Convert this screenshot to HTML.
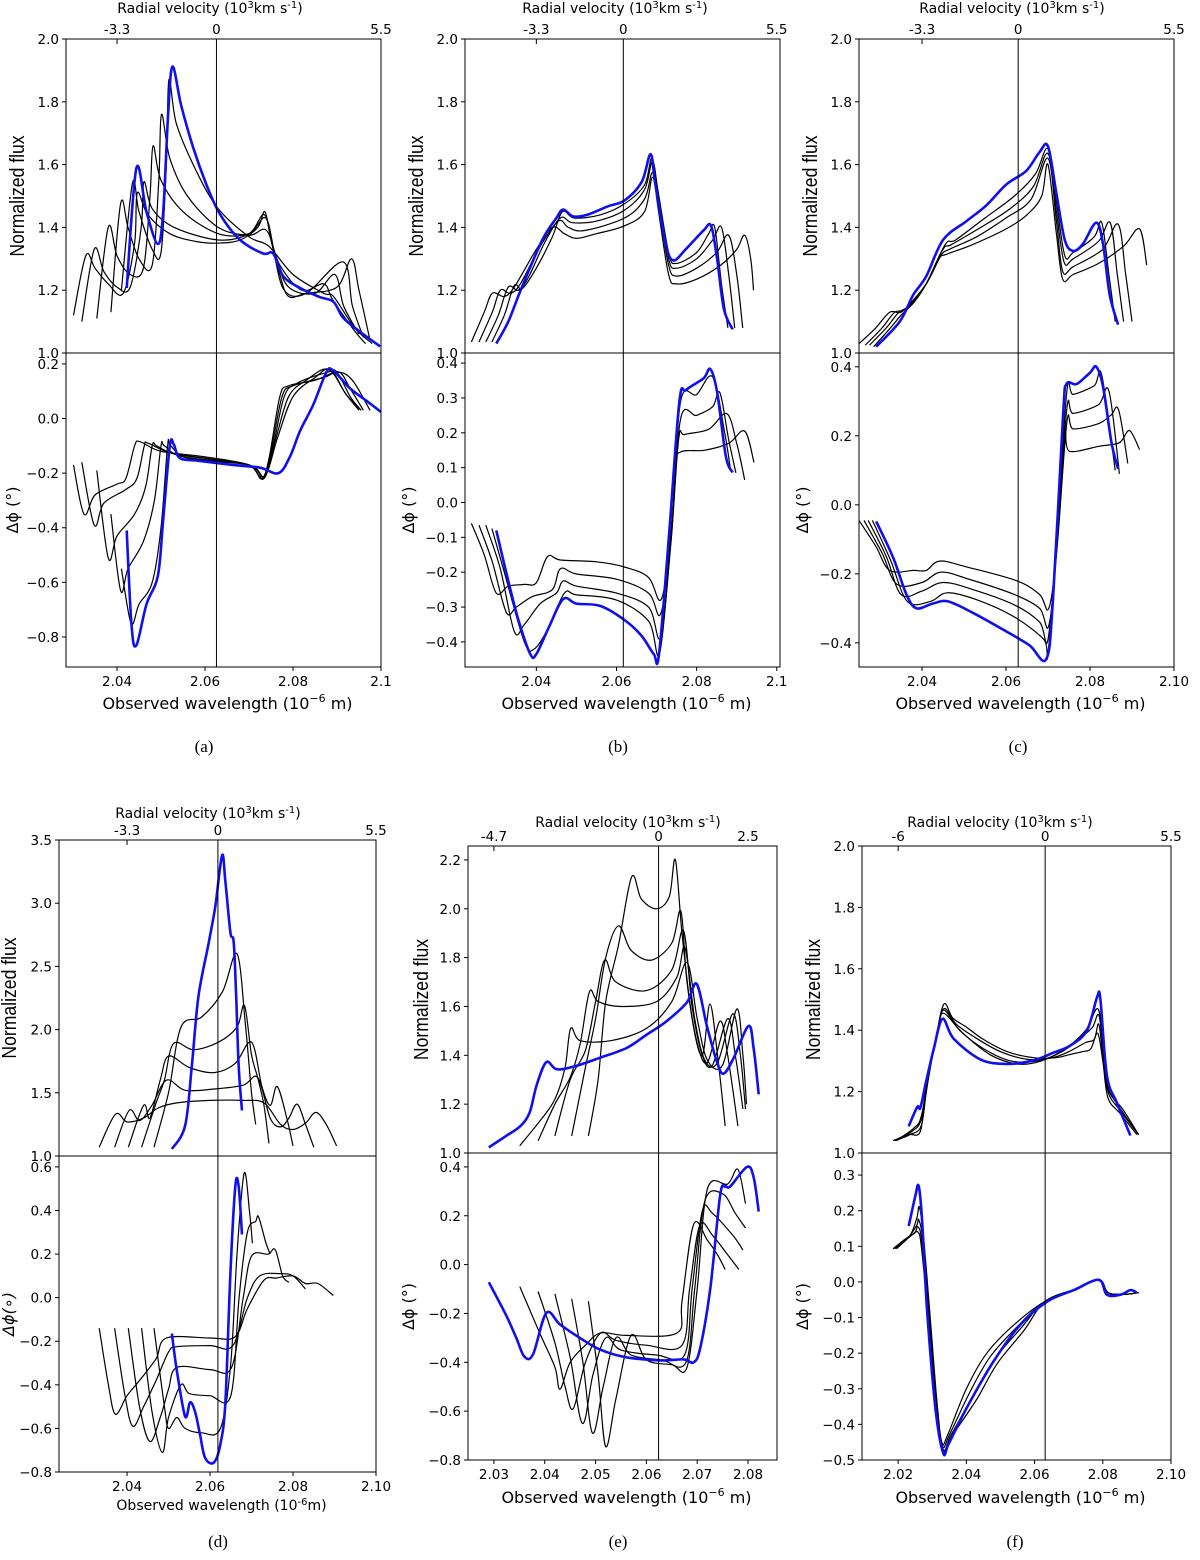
<!DOCTYPE html>
<html><head><meta charset="utf-8"><title>Flux and phase panels</title>
<style>
html,body{margin:0;padding:0;background:#fff;}
#fig{position:relative;width:1200px;height:1555px;}
svg text{font-family:"DejaVu Sans","Liberation Sans",sans-serif;fill:#000;}
.cap{font-family:"Liberation Serif",serif !important;font-size:17px;}
.ylab{font-family:"Liberation Sans",sans-serif !important;}
</style></head>
<body>
<div id="fig">
<svg id="svg" width="1200" height="1555" viewBox="0 0 1200 1555" xmlns="http://www.w3.org/2000/svg"></svg>
</div>
<script>
// ---------------- Panel (a) data ----------------
const aFluxBlue = [[2.0422,1.207],[2.0444,1.589],[2.0467,1.449],[2.0493,1.347],[2.0505,1.449],[2.0516,1.758],[2.0526,1.912],[2.0546,1.787],[2.0573,1.655],[2.0603,1.537],[2.0634,1.442],[2.0679,1.361],[2.0732,1.317],[2.0755,1.317],[2.0778,1.244],[2.0816,1.207],[2.0861,1.178],[2.0892,1.163],[2.0914,1.112],[2.0952,1.068],[2.0998,1.021]];
const aFluxBlack = [
[[2.0301,1.12],[2.0329,1.31],[2.0350,1.27],[2.0380,1.22],[2.0414,1.19],[2.0440,1.35],[2.0446,1.51],[2.0470,1.44],[2.0520,1.38],[2.0580,1.355],[2.0630,1.35],[2.0680,1.36],[2.0720,1.40],[2.0736,1.45],[2.0750,1.36],[2.0770,1.25],[2.0790,1.18],[2.0830,1.19],[2.0900,1.21],[2.0933,1.30],[2.0950,1.20],[2.0975,1.04]],
[[2.0320,1.10],[2.0348,1.33],[2.0370,1.26],[2.0400,1.21],[2.0430,1.21],[2.0455,1.40],[2.0461,1.545],[2.0480,1.46],[2.0530,1.40],[2.0630,1.36],[2.0700,1.38],[2.0735,1.44],[2.0755,1.33],[2.0780,1.20],[2.0830,1.19],[2.0914,1.29],[2.0935,1.15],[2.0960,1.05]],
[[2.0354,1.11],[2.0380,1.40],[2.0400,1.31],[2.0430,1.25],[2.0460,1.27],[2.0475,1.50],[2.0482,1.66],[2.0500,1.55],[2.0550,1.45],[2.0630,1.38],[2.0700,1.38],[2.0738,1.43],[2.0760,1.31],[2.0790,1.21],[2.0850,1.19],[2.0895,1.25],[2.0915,1.15],[2.0950,1.06]],
[[2.0386,1.13],[2.0408,1.475],[2.0425,1.40],[2.0450,1.30],[2.0480,1.28],[2.0495,1.55],[2.0501,1.76],[2.0520,1.62],[2.0560,1.50],[2.0630,1.40],[2.0700,1.375],[2.0740,1.39],[2.0770,1.28],[2.0820,1.20],[2.0870,1.22],[2.0890,1.17],[2.0940,1.07],[2.0965,1.03]],
[[2.0410,1.20],[2.0435,1.54],[2.0450,1.45],[2.0480,1.33],[2.0500,1.32],[2.0512,1.60],[2.0518,1.87],[2.0535,1.73],[2.0580,1.58],[2.0630,1.46],[2.0700,1.37],[2.0745,1.34],[2.0800,1.25],[2.0870,1.19],[2.0892,1.18],[2.0940,1.08],[2.0980,1.03]]
];
const aPhaseBlue = [[2.0422,-0.41],[2.0433,-0.76],[2.0444,-0.83],[2.0467,-0.68],[2.0493,-0.575],[2.0505,-0.37],[2.0520,-0.10],[2.0529,-0.095],[2.0543,-0.145],[2.0588,-0.155],[2.0664,-0.17],[2.0725,-0.18],[2.0767,-0.20],[2.0793,-0.14],[2.0816,-0.045],[2.0846,0.05],[2.0876,0.17],[2.0892,0.175],[2.0930,0.11],[2.0967,0.065],[2.1000,0.024]];
const aPhaseBlack = [
[[2.0301,-0.17],[2.0325,-0.35],[2.0350,-0.28],[2.0400,-0.24],[2.0420,-0.22],[2.0440,-0.10],[2.0452,-0.085],[2.0500,-0.12],[2.0600,-0.14],[2.0700,-0.17],[2.0728,-0.22],[2.0745,-0.15],[2.0770,0.08],[2.0790,0.12],[2.0850,0.14],[2.0900,0.17],[2.0935,0.14],[2.0975,0.03]],
[[2.0320,-0.16],[2.0348,-0.39],[2.0370,-0.31],[2.0420,-0.26],[2.0445,-0.22],[2.0462,-0.10],[2.0470,-0.09],[2.0520,-0.125],[2.0600,-0.145],[2.0700,-0.17],[2.0730,-0.22],[2.0750,-0.12],[2.0775,0.08],[2.0800,0.12],[2.0870,0.15],[2.0905,0.17],[2.0930,0.11],[2.0960,0.03]],
[[2.0354,-0.19],[2.0380,-0.51],[2.0400,-0.43],[2.0440,-0.35],[2.0465,-0.25],[2.0480,-0.10],[2.0490,-0.10],[2.0530,-0.13],[2.0620,-0.15],[2.0700,-0.17],[2.0732,-0.22],[2.0755,-0.10],[2.0780,0.08],[2.0810,0.13],[2.0880,0.17],[2.0900,0.17],[2.0930,0.08],[2.0955,0.03]],
[[2.0386,-0.35],[2.0408,-0.63],[2.0425,-0.55],[2.0460,-0.45],[2.0485,-0.30],[2.0500,-0.10],[2.0508,-0.10],[2.0550,-0.14],[2.0700,-0.17],[2.0734,-0.22],[2.0760,-0.08],[2.0790,0.08],[2.0830,0.14],[2.0880,0.18],[2.0920,0.09],[2.0950,0.03]],
[[2.0410,-0.55],[2.0432,-0.75],[2.0450,-0.68],[2.0480,-0.60],[2.0500,-0.40],[2.0515,-0.10],[2.0522,-0.10],[2.0560,-0.145],[2.0700,-0.17],[2.0736,-0.21],[2.0765,-0.07],[2.0800,0.08],[2.0850,0.15],[2.0885,0.18],[2.0920,0.09],[2.0955,0.03]]
];
// ---------------- Panel (b) data ----------------
const bFluxBlue = [[2.0300,1.03],[2.0330,1.10],[2.0364,1.21],[2.0415,1.36],[2.0450,1.43],[2.0467,1.457],[2.0492,1.435],[2.0527,1.44],[2.0578,1.467],[2.0620,1.486],[2.0663,1.545],[2.0685,1.633],[2.0697,1.537],[2.0723,1.347],[2.0742,1.295],[2.0774,1.332],[2.0817,1.39],[2.0836,1.405],[2.0851,1.30],[2.0868,1.14],[2.0890,1.075]];
const bFluxBlack = [
[[2.0238,1.035],[2.0270,1.13],[2.0290,1.19],[2.0320,1.18],[2.0345,1.21],[2.0400,1.33],[2.0440,1.40],[2.0470,1.38],[2.0500,1.365],[2.0550,1.38],[2.0620,1.405],[2.0670,1.45],[2.0690,1.56],[2.0705,1.45],[2.0730,1.25],[2.0750,1.22],[2.0800,1.235],[2.0860,1.28],[2.0900,1.33],[2.0920,1.375],[2.0935,1.30],[2.0942,1.20]],
[[2.0257,1.035],[2.0290,1.13],[2.0310,1.20],[2.0335,1.19],[2.0360,1.22],[2.0410,1.34],[2.0455,1.42],[2.0480,1.40],[2.0520,1.39],[2.0620,1.43],[2.0670,1.49],[2.0690,1.575],[2.0705,1.47],[2.0730,1.28],[2.0750,1.245],[2.0800,1.27],[2.0850,1.32],[2.0880,1.375],[2.0900,1.25],[2.0915,1.08]],
[[2.0274,1.035],[2.0305,1.12],[2.0330,1.21],[2.0355,1.20],[2.0380,1.24],[2.0420,1.35],[2.0460,1.43],[2.0490,1.415],[2.0550,1.42],[2.0620,1.455],[2.0670,1.52],[2.0690,1.61],[2.0705,1.50],[2.0730,1.30],[2.0750,1.27],[2.0800,1.30],[2.0840,1.36],[2.0862,1.40],[2.0880,1.25],[2.0895,1.08]],
[[2.0289,1.035],[2.0320,1.12],[2.0345,1.215],[2.0365,1.205],[2.0400,1.27],[2.0440,1.37],[2.0465,1.45],[2.0495,1.43],[2.0560,1.44],[2.0620,1.475],[2.0670,1.535],[2.0688,1.62],[2.0703,1.52],[2.0730,1.32],[2.0748,1.285],[2.0800,1.32],[2.0830,1.38],[2.0845,1.40],[2.0862,1.22],[2.0878,1.08]]
];
const bPhaseBlue = [[2.0300,-0.08],[2.0330,-0.225],[2.0356,-0.34],[2.0385,-0.435],[2.0400,-0.435],[2.0432,-0.356],[2.0467,-0.277],[2.0500,-0.29],[2.0560,-0.297],[2.0620,-0.337],[2.0663,-0.383],[2.0693,-0.435],[2.0706,-0.435],[2.0732,-0.08],[2.0757,0.29],[2.0774,0.323],[2.0817,0.356],[2.0834,0.383],[2.0851,0.317],[2.0873,0.132],[2.0890,0.086]];
const bPhaseBlack = [
[[2.0238,-0.06],[2.0270,-0.15],[2.0300,-0.26],[2.0330,-0.24],[2.0370,-0.235],[2.0400,-0.23],[2.0428,-0.155],[2.0460,-0.165],[2.0550,-0.17],[2.0620,-0.185],[2.0680,-0.215],[2.0710,-0.28],[2.0730,-0.15],[2.0745,0.10],[2.0760,0.145],[2.0820,0.15],[2.0880,0.17],[2.0920,0.205],[2.0943,0.115]],
[[2.0257,-0.065],[2.0290,-0.17],[2.0325,-0.315],[2.0350,-0.30],[2.0390,-0.27],[2.0440,-0.25],[2.0460,-0.19],[2.0500,-0.205],[2.0600,-0.22],[2.0680,-0.26],[2.0710,-0.32],[2.0735,-0.12],[2.0755,0.18],[2.0770,0.195],[2.0830,0.21],[2.0875,0.255],[2.0900,0.17],[2.0920,0.065]],
[[2.0274,-0.065],[2.0310,-0.19],[2.0345,-0.37],[2.0370,-0.35],[2.0410,-0.29],[2.0450,-0.26],[2.0467,-0.225],[2.0500,-0.24],[2.0600,-0.26],[2.0680,-0.30],[2.0710,-0.385],[2.0737,-0.10],[2.0760,0.24],[2.0800,0.25],[2.0840,0.275],[2.0858,0.315],[2.0880,0.18],[2.0898,0.085]],
[[2.0289,-0.075],[2.0320,-0.20],[2.0370,-0.40],[2.0395,-0.42],[2.0430,-0.36],[2.0470,-0.26],[2.0500,-0.265],[2.0600,-0.28],[2.0680,-0.34],[2.0708,-0.43],[2.0738,-0.07],[2.0760,0.29],[2.0800,0.31],[2.0840,0.36],[2.0870,0.20],[2.0885,0.09]]
];
// ---------------- Panel (c) data ----------------
const cFluxBlue = [[2.0291,1.02],[2.0347,1.10],[2.0379,1.185],[2.0410,1.244],[2.0450,1.36],[2.0506,1.42],[2.0553,1.47],[2.0601,1.537],[2.0648,1.58],[2.0680,1.64],[2.0700,1.658],[2.0720,1.508],[2.0740,1.36],[2.0760,1.325],[2.0783,1.347],[2.0815,1.415],[2.0831,1.347],[2.0847,1.185],[2.0867,1.09]];
const cFluxBlack = [
[[2.0250,1.03],[2.0290,1.08],[2.0323,1.13],[2.0350,1.13],[2.0380,1.17],[2.0410,1.22],[2.0440,1.30],[2.0460,1.315],[2.0520,1.345],[2.0600,1.395],[2.0650,1.44],[2.0685,1.50],[2.0700,1.60],[2.0720,1.38],[2.0735,1.235],[2.0760,1.25],[2.0820,1.285],[2.0880,1.34],[2.0918,1.395],[2.0935,1.28]],
[[2.0265,1.025],[2.0305,1.08],[2.0335,1.13],[2.0360,1.14],[2.0410,1.22],[2.0445,1.31],[2.0465,1.33],[2.0530,1.37],[2.0600,1.43],[2.0660,1.49],[2.0700,1.62],[2.0720,1.42],[2.0735,1.26],[2.0760,1.275],[2.0830,1.33],[2.0867,1.41],[2.0885,1.25],[2.0900,1.10]],
[[2.0275,1.025],[2.0315,1.08],[2.0345,1.13],[2.0370,1.15],[2.0410,1.22],[2.0450,1.33],[2.0470,1.345],[2.0540,1.40],[2.0610,1.46],[2.0665,1.53],[2.0700,1.635],[2.0720,1.45],[2.0738,1.29],[2.0760,1.30],[2.0820,1.355],[2.0848,1.415],[2.0865,1.25],[2.0880,1.10]],
[[2.0285,1.02],[2.0325,1.08],[2.0350,1.12],[2.0380,1.16],[2.0410,1.22],[2.0455,1.345],[2.0480,1.36],[2.0550,1.43],[2.0620,1.50],[2.0670,1.57],[2.0700,1.65],[2.0720,1.48],[2.0740,1.31],[2.0760,1.32],[2.0810,1.37],[2.0828,1.415],[2.0845,1.25],[2.0860,1.10]]
];
const cPhaseBlue = [[2.0291,-0.048],[2.0331,-0.152],[2.0363,-0.26],[2.0387,-0.30],[2.0426,-0.286],[2.0462,-0.28],[2.0521,-0.313],[2.0601,-0.367],[2.0656,-0.407],[2.0696,-0.447],[2.0712,-0.273],[2.0736,0.262],[2.0744,0.35],[2.0768,0.35],[2.0800,0.383],[2.0815,0.40],[2.0831,0.343],[2.0851,0.182],[2.0867,0.104]];
const cPhaseBlack = [
[[2.0250,-0.045],[2.0290,-0.12],[2.0323,-0.19],[2.0380,-0.19],[2.0410,-0.19],[2.0442,-0.163],[2.0506,-0.18],[2.0625,-0.22],[2.0680,-0.26],[2.0702,-0.30],[2.0720,-0.14],[2.0740,0.20],[2.0751,0.155],[2.0823,0.17],[2.0870,0.18],[2.0894,0.215],[2.0918,0.16]],
[[2.0262,-0.045],[2.0305,-0.14],[2.0340,-0.23],[2.0400,-0.225],[2.0445,-0.195],[2.0510,-0.215],[2.0620,-0.26],[2.0680,-0.30],[2.0702,-0.35],[2.0722,-0.12],[2.0745,0.24],[2.0760,0.22],[2.0820,0.235],[2.0850,0.26],[2.0868,0.275],[2.0890,0.12]],
[[2.0272,-0.045],[2.0315,-0.15],[2.0350,-0.26],[2.0400,-0.25],[2.0450,-0.225],[2.0520,-0.245],[2.0620,-0.29],[2.0680,-0.34],[2.0700,-0.39],[2.0722,-0.10],[2.0745,0.28],[2.0760,0.265],[2.0820,0.29],[2.0845,0.33],[2.0870,0.09]],
[[2.0282,-0.045],[2.0325,-0.16],[2.0365,-0.28],[2.0420,-0.28],[2.0460,-0.255],[2.0530,-0.275],[2.0620,-0.325],[2.0690,-0.39],[2.0700,-0.43],[2.0722,-0.08],[2.0745,0.33],[2.0760,0.32],[2.0810,0.345],[2.0828,0.375],[2.0860,0.10]]
];
// ---------------- Panel (d) data ----------------
const dFluxBlue = [[2.0508,1.055],[2.0540,1.24],[2.0556,1.71],[2.0572,2.26],[2.0597,2.69],[2.0613,2.98],[2.0629,3.38],[2.0637,3.17],[2.0649,2.77],[2.0657,2.69],[2.0663,2.26],[2.0669,1.71],[2.0677,1.36]];
const dFluxBlack = [
[[2.0333,1.07],[2.0372,1.33],[2.0400,1.27],[2.0440,1.30],[2.0475,1.38],[2.0520,1.42],[2.0600,1.44],[2.0680,1.44],[2.0730,1.42],[2.0770,1.25],[2.0800,1.21],[2.0830,1.26],[2.0855,1.345],[2.0880,1.25],[2.0905,1.08]],
[[2.0370,1.07],[2.0405,1.36],[2.0430,1.28],[2.0460,1.40],[2.0495,1.60],[2.0540,1.52],[2.0610,1.53],[2.0680,1.56],[2.0715,1.62],[2.0745,1.30],[2.0770,1.23],[2.0790,1.30],[2.0810,1.41],[2.0830,1.25],[2.0850,1.07]],
[[2.0403,1.07],[2.0440,1.40],[2.0455,1.30],[2.0480,1.60],[2.0500,1.79],[2.0550,1.70],[2.0610,1.66],[2.0660,1.73],[2.0700,1.90],[2.0725,1.55],[2.0745,1.40],[2.0762,1.55],[2.0785,1.30],[2.0800,1.08]],
[[2.0435,1.07],[2.0470,1.42],[2.0490,1.60],[2.0512,1.89],[2.0560,1.84],[2.0620,1.90],[2.0665,2.02],[2.0683,2.19],[2.0700,1.80],[2.0715,1.62],[2.0730,1.40],[2.0742,1.10]],
[[2.0465,1.07],[2.0500,1.50],[2.0530,2.02],[2.0580,2.10],[2.0630,2.30],[2.0665,2.60],[2.0685,2.05],[2.0700,1.50],[2.0710,1.25]]
];
const dPhaseBlue = [[2.0508,-0.165],[2.0520,-0.334],[2.0540,-0.545],[2.0552,-0.48],[2.0564,-0.524],[2.0576,-0.63],[2.0588,-0.735],[2.0609,-0.757],[2.0625,-0.672],[2.0637,-0.48],[2.0649,0.11],[2.0661,0.51],[2.0669,0.51],[2.0677,0.29]];
const dPhaseBlack = [
[[2.0333,-0.14],[2.0355,-0.40],[2.0372,-0.535],[2.0400,-0.45],[2.0430,-0.38],[2.0470,-0.28],[2.0495,-0.185],[2.0600,-0.185],[2.0660,-0.18],[2.0690,-0.05],[2.0730,0.08],[2.0760,0.09],[2.0800,0.10],[2.0830,0.065],[2.0860,0.065],[2.0897,0.01]],
[[2.0370,-0.14],[2.0395,-0.45],[2.0414,-0.59],[2.0440,-0.50],[2.0470,-0.38],[2.0500,-0.25],[2.0520,-0.225],[2.0600,-0.22],[2.0655,-0.22],[2.0690,0.0],[2.0720,0.10],[2.0770,0.11],[2.0800,0.10],[2.0830,0.04]],
[[2.0403,-0.14],[2.0430,-0.50],[2.0455,-0.66],[2.0480,-0.55],[2.0500,-0.42],[2.0520,-0.32],[2.0600,-0.33],[2.0652,-0.32],[2.0680,0.0],[2.0700,0.19],[2.0740,0.20],[2.0757,0.22],[2.0775,0.10],[2.0790,0.07]],
[[2.0435,-0.14],[2.0460,-0.52],[2.0485,-0.71],[2.0500,-0.55],[2.0530,-0.40],[2.0550,-0.44],[2.0600,-0.45],[2.0650,-0.45],[2.0670,0.0],[2.0690,0.30],[2.0710,0.35],[2.0717,0.37],[2.0735,0.25],[2.0745,0.20]],
[[2.0465,-0.14],[2.0490,-0.50],[2.0500,-0.60],[2.0520,-0.55],[2.0540,-0.60],[2.0580,-0.62],[2.0625,-0.60],[2.0650,-0.30],[2.0665,0.20],[2.0682,0.57],[2.0695,0.40],[2.0702,0.25]]
];
// ---------------- Panel (e) data ----------------
const eFluxBlue = [[2.0290,1.023],[2.0324,1.07],[2.0351,1.108],[2.0370,1.164],[2.0384,1.277],[2.0403,1.372],[2.0423,1.343],[2.0456,1.353],[2.0509,1.39],[2.0561,1.43],[2.0601,1.485],[2.0640,1.54],[2.0680,1.617],[2.0699,1.692],[2.0719,1.52],[2.0739,1.372],[2.0752,1.325],[2.0772,1.39],[2.0801,1.52],[2.0811,1.43],[2.0821,1.24]];
const eFluxBlack = [
[[2.0486,1.07],[2.0505,1.30],[2.0520,1.62],[2.0545,1.85],[2.0571,2.13],[2.0590,2.04],[2.0620,2.00],[2.0645,2.05],[2.0657,2.20],[2.0670,1.90],[2.0690,1.55],[2.0710,1.40],[2.0725,1.61],[2.0740,1.40],[2.0755,1.11]],
[[2.0453,1.07],[2.0480,1.35],[2.0500,1.55],[2.0520,1.80],[2.0545,1.93],[2.0570,1.83],[2.0610,1.79],[2.0650,1.86],[2.0668,1.99],[2.0680,1.70],[2.0700,1.45],[2.0720,1.37],[2.0745,1.54],[2.0760,1.40],[2.0780,1.11]],
[[2.0420,1.07],[2.0450,1.30],[2.0480,1.42],[2.0500,1.62],[2.0518,1.79],[2.0540,1.70],[2.0600,1.665],[2.0650,1.75],[2.0673,1.91],[2.0690,1.60],[2.0710,1.40],[2.0730,1.36],[2.0760,1.55],[2.0775,1.40],[2.0790,1.18]],
[[2.0387,1.05],[2.0420,1.20],[2.0450,1.31],[2.0470,1.45],[2.0488,1.66],[2.0505,1.62],[2.0550,1.60],[2.0620,1.62],[2.0660,1.72],[2.0676,1.84],[2.0695,1.55],[2.0715,1.38],[2.0740,1.37],[2.0770,1.57],[2.0785,1.40],[2.0795,1.18]],
[[2.0351,1.03],[2.0390,1.13],[2.0420,1.22],[2.0440,1.35],[2.0451,1.51],[2.0470,1.46],[2.0530,1.46],[2.0600,1.51],[2.0650,1.62],[2.0680,1.78],[2.0700,1.55],[2.0720,1.38],[2.0750,1.36],[2.0778,1.59],[2.0790,1.40],[2.0797,1.20]]
];
const ePhaseBlue = [[2.0290,-0.072],[2.0324,-0.207],[2.0344,-0.30],[2.0360,-0.377],[2.0377,-0.367],[2.0403,-0.198],[2.0430,-0.245],[2.0469,-0.30],[2.0509,-0.348],[2.0561,-0.38],[2.0627,-0.392],[2.0673,-0.388],[2.0693,-0.40],[2.0706,-0.34],[2.0726,-0.094],[2.0745,0.282],[2.0755,0.32],[2.0765,0.32],[2.0798,0.40],[2.0811,0.358],[2.0821,0.217]];
const ePhaseBlack = [
[[2.0351,-0.09],[2.0390,-0.28],[2.0420,-0.42],[2.0430,-0.51],[2.0450,-0.40],[2.0480,-0.33],[2.0510,-0.28],[2.0560,-0.29],[2.0660,-0.28],[2.0670,-0.15],[2.0693,0.165],[2.0720,0.10],[2.0740,0.04],[2.0755,-0.02]],
[[2.0387,-0.11],[2.0420,-0.32],[2.0440,-0.50],[2.0456,-0.59],[2.0480,-0.40],[2.0510,-0.28],[2.0540,-0.31],[2.0600,-0.33],[2.0670,-0.33],[2.0685,-0.10],[2.0705,0.16],[2.0730,0.12],[2.0760,0.04],[2.0782,-0.02]],
[[2.0420,-0.12],[2.0450,-0.38],[2.0474,-0.65],[2.0495,-0.45],[2.0520,-0.30],[2.0550,-0.35],[2.0620,-0.37],[2.0675,-0.37],[2.0690,-0.10],[2.0710,0.22],[2.0730,0.21],[2.0770,0.12],[2.0790,0.06]],
[[2.0453,-0.14],[2.0475,-0.40],[2.0494,-0.69],[2.0515,-0.50],[2.0540,-0.30],[2.0570,-0.37],[2.0630,-0.39],[2.0678,-0.40],[2.0695,-0.10],[2.0715,0.26],[2.0750,0.29],[2.0775,0.21],[2.0795,0.15]],
[[2.0486,-0.15],[2.0505,-0.45],[2.0520,-0.745],[2.0540,-0.55],[2.0570,-0.29],[2.0600,-0.39],[2.0650,-0.41],[2.0680,-0.42],[2.0700,-0.10],[2.0720,0.31],[2.0760,0.33],[2.0780,0.39],[2.0795,0.25]]
];
// ---------------- Panel (f) data ----------------
const fFluxBlue = [[2.0231,1.087],[2.0256,1.15],[2.0265,1.147],[2.0280,1.222],[2.0305,1.342],[2.0330,1.437],[2.0363,1.372],[2.0441,1.305],[2.0519,1.29],[2.0598,1.302],[2.0656,1.327],[2.0705,1.35],[2.0754,1.40],[2.0783,1.507],[2.0793,1.50],[2.0812,1.252],[2.0842,1.162],[2.0881,1.057]];
const fFluxBlack = [
[[2.0185,1.04],[2.0230,1.06],[2.0265,1.07],[2.0280,1.20],[2.0310,1.37],[2.0334,1.485],[2.0360,1.44],[2.0400,1.41],[2.0450,1.37],[2.0520,1.33],[2.0600,1.31],[2.0660,1.31],[2.0700,1.32],[2.0740,1.33],[2.0765,1.34],[2.0785,1.39],[2.0800,1.30],[2.0815,1.18],[2.0850,1.13],[2.0900,1.06]],
[[2.0190,1.04],[2.0235,1.06],[2.0268,1.09],[2.0285,1.22],[2.0312,1.38],[2.0334,1.47],[2.0370,1.42],[2.0420,1.38],[2.0500,1.33],[2.0580,1.305],[2.0650,1.31],[2.0700,1.33],[2.0750,1.36],[2.0775,1.37],[2.0788,1.42],[2.0800,1.32],[2.0815,1.20],[2.0850,1.14],[2.0905,1.06]],
[[2.0195,1.04],[2.0240,1.07],[2.0268,1.11],[2.0290,1.25],[2.0315,1.40],[2.0334,1.465],[2.0380,1.40],[2.0450,1.34],[2.0530,1.30],[2.0610,1.30],[2.0680,1.33],[2.0740,1.38],[2.0770,1.41],[2.0788,1.45],[2.0800,1.35],[2.0815,1.21],[2.0860,1.14],[2.0905,1.06]],
[[2.0200,1.045],[2.0245,1.08],[2.0268,1.12],[2.0292,1.27],[2.0318,1.41],[2.0334,1.455],[2.0390,1.39],[2.0470,1.32],[2.0550,1.29],[2.0620,1.30],[2.0690,1.34],[2.0750,1.40],[2.0785,1.47],[2.0800,1.37],[2.0815,1.22],[2.0860,1.13],[2.0905,1.06]]
];
const fPhaseBlue = [[2.0231,0.157],[2.0250,0.24],[2.0260,0.27],[2.0270,0.177],[2.0285,-0.081],[2.0309,-0.352],[2.0332,-0.48],[2.0348,-0.455],[2.0402,-0.352],[2.0480,-0.223],[2.0558,-0.12],[2.0637,-0.055],[2.0715,-0.023],[2.0788,0.006],[2.0812,-0.036],[2.0852,-0.036],[2.0881,-0.023],[2.0900,-0.03]];
const fPhaseBlack = [
[[2.0185,0.093],[2.0220,0.12],[2.0245,0.135],[2.0258,0.14],[2.0268,0.10],[2.0290,-0.12],[2.0310,-0.33],[2.0328,-0.45],[2.0345,-0.43],[2.0400,-0.30],[2.0460,-0.20],[2.0540,-0.12],[2.0630,-0.055],[2.0720,-0.02],[2.0790,0.005],[2.0815,-0.03],[2.0860,-0.035],[2.0905,-0.03]],
[[2.0190,0.093],[2.0225,0.12],[2.0250,0.14],[2.0258,0.155],[2.0270,0.11],[2.0290,-0.11],[2.0312,-0.34],[2.0330,-0.46],[2.0350,-0.43],[2.0410,-0.31],[2.0470,-0.21],[2.0550,-0.125],[2.0630,-0.055],[2.0720,-0.02],[2.0790,0.005],[2.0815,-0.03],[2.0860,-0.035],[2.0905,-0.03]],
[[2.0195,0.093],[2.0230,0.125],[2.0255,0.16],[2.0260,0.175],[2.0272,0.12],[2.0292,-0.10],[2.0312,-0.34],[2.0332,-0.47],[2.0355,-0.43],[2.0420,-0.32],[2.0480,-0.22],[2.0560,-0.13],[2.0630,-0.055],[2.0720,-0.02],[2.0790,0.005],[2.0815,-0.03],[2.0860,-0.035],[2.0905,-0.03]],
[[2.0200,0.10],[2.0235,0.13],[2.0255,0.18],[2.0262,0.21],[2.0274,0.13],[2.0294,-0.10],[2.0315,-0.35],[2.0333,-0.475],[2.0360,-0.43],[2.0430,-0.33],[2.0490,-0.23],[2.0570,-0.135],[2.0630,-0.055],[2.0720,-0.02],[2.0790,0.005],[2.0815,-0.03],[2.0860,-0.035],[2.0905,-0.03]]
];
// ---------------- Tick labels ----------------
const aXTicks = [2.04,2.06,2.08,2.10];
const aXLabels = ["2.04","2.06","2.08","2.1"];
const bXTicks = [2.04,2.06,2.08,2.10];
const bXLabels = ["2.04","2.06","2.08","2.1"];
const cXTicks = [2.04,2.06,2.08,2.10];
const cXLabels = ["2.04","2.06","2.08","2.10"];
const dXTicks = [2.04,2.06,2.08,2.10];
const dXLabels = ["2.04","2.06","2.08","2.10"];
const eXTicks = [2.03,2.04,2.05,2.06,2.07,2.08];
const eXLabels = ["2.03","2.04","2.05","2.06","2.07","2.08"];
const fXTicks = [2.02,2.04,2.06,2.08,2.10];
const fXLabels = ["2.02","2.04","2.06","2.08","2.10"];
const fluxTicksStd = [1.0,1.2,1.4,1.6,1.8,2.0];
const dFluxTicks = [1.0,1.5,2.0,2.5,3.0,3.5];
const eFluxTicks = [1.0,1.2,1.4,1.6,1.8,2.0,2.2];
const aPhaseTicks = [-0.8,-0.6,-0.4,-0.2,0.0,0.2];
const bPhaseTicks = [-0.4,-0.3,-0.2,-0.1,0.0,0.1,0.2,0.3,0.4];
const cPhaseTicks = [-0.4,-0.2,0.0,0.2,0.4];
const dPhaseTicks = [-0.8,-0.6,-0.4,-0.2,0.0,0.2,0.4,0.6];
const ePhaseTicks = [-0.8,-0.6,-0.4,-0.2,0.0,0.2,0.4];
const fPhaseTicks = [-0.5,-0.4,-0.3,-0.2,-0.1,0.0,0.1,0.2,0.3];
const aVelLabels = ["-3.3","0","5.5"];
const dVelLabels = ["-3.3","0","5.5"];
const eVelLabels = ["-4.7","0","2.5"];
const fVelLabels = ["-6","0","5.5"];
const aVelPos = [2.04,2.0626,2.10];
const bVelPos = [2.04,2.0617,2.10];
const cVelPos = [2.04,2.0629,2.10];
const dVelPos = [2.04,2.0619,2.10];
const eVelPos = [2.03,2.0624,2.08];
const fVelPos = [2.02,2.0631,2.10];

const NS = "http://www.w3.org/2000/svg";
const svg = document.getElementById('svg');
function mk(tag, attrs, parent){
  const e = document.createElementNS(NS, tag);
  for (const k in attrs) e.setAttribute(k, attrs[k]);
  (parent||svg).appendChild(e);
  return e;
}
function fmt(v, dec){ const s = v.toFixed(dec); return s.replace('-', '\u2212'); }
function smooth(pts){
  let d = 'M' + pts[0][0].toFixed(1) + ' ' + pts[0][1].toFixed(1);
  for (let i = 0; i < pts.length - 1; i++){
    const p0 = pts[i-1] || pts[i], p1 = pts[i], p2 = pts[i+1], p3 = pts[i+2] || p2;
    const c1x = p1[0] + (p2[0]-p0[0])/6, c1y = p1[1] + (p2[1]-p0[1])/6;
    const c2x = p2[0] - (p3[0]-p1[0])/6, c2y = p2[1] - (p3[1]-p1[1])/6;
    d += ' C' + c1x.toFixed(1)+' '+c1y.toFixed(1)+' '+c2x.toFixed(1)+' '+c2y.toFixed(1)+' '+p2[0].toFixed(1)+' '+p2[1].toFixed(1);
  }
  return d;
}
let clipId = 0;
function subplot(P, sub, g){
  const xs = v => P.L + (v - P.xmin) / (P.xmax - P.xmin) * (P.R - P.L);
  const ys = v => sub.bottom - (v - sub.ymin) / (sub.ymax - sub.ymin) * (sub.bottom - sub.top);
  const id = 'clip' + (clipId++);
  const cp = mk('clipPath', {id: id}, g);
  mk('rect', {x: P.L, y: sub.top, width: P.R - P.L, height: sub.bottom - sub.top}, cp);
  const cg = mk('g', {'clip-path': 'url(#' + id + ')'}, g);
  
  
  sub.black.forEach((c, i) => {
    const p = mk('path', {d: smooth(c.map(q => [xs(q[0]), ys(q[1])])), fill: 'none', stroke: '#000', 'stroke-width': 1.2, 'stroke-linejoin': 'round'}, cg);
    
    
  });
  const bp = mk('path', {d: smooth(sub.blue.map(q => [xs(q[0]), ys(q[1])])), fill: 'none', stroke: '#1010ee', 'stroke-width': 2.6, 'stroke-linejoin': 'round'}, cg);
  
  
  sub.ticks.forEach(t => {
    const y = ys(t);
    mk('line', {x1: P.L - 4, x2: P.L, y1: y, y2: y, stroke: '#000', 'stroke-width': 1}, g);
    const tx = mk('text', {x: P.L - 7, y: y + 5, 'text-anchor': 'end', 'font-size': 13.5}, g);
    tx.textContent = fmt(t, sub.dec);
    
    
  });
  return xs;
}
function panel(P){
  const g = mk('g', {});
  
  
  const xs = subplot(P, {top: P.T, bottom: P.M, ymin: P.fmin, ymax: P.fmax, ticks: P.fticks, dec: 1, black: P.fluxBlack, blue: P.fluxBlue, name: 'flux-' + P.id}, g);
  subplot(P, {top: P.M, bottom: P.B, ymin: P.pmin, ymax: P.pmax, ticks: P.pticks, dec: 1, black: P.phaseBlack, blue: P.phaseBlue, name: 'phase-' + P.id}, g);
  const fr = mk('rect', {x: P.L, y: P.T, width: P.R - P.L, height: P.B - P.T, fill: 'none', stroke: '#000', 'stroke-width': 1}, g);
  
  
  mk('line', {x1: P.L, x2: P.R, y1: P.M, y2: P.M, stroke: '#000', 'stroke-width': 1}, g);
  const vl = mk('line', {x1: xs(P.vline), x2: xs(P.vline), y1: P.T, y2: P.B, stroke: '#000', 'stroke-width': 1}, g);
  
  
  P.xticks.forEach((t, i) => {
    const x = xs(t);
    mk('line', {x1: x, x2: x, y1: P.B, y2: P.B + 4, stroke: '#000', 'stroke-width': 1}, g);
    const tx = mk('text', {x: x, y: P.B + 19, 'text-anchor': 'middle', 'font-size': 13.5}, g);
    tx.textContent = P.xlabels[i];
    
    
  });
  P.velPos.forEach((v, i) => {
    const x = xs(v);
    const tx = mk('text', {x: x, y: P.T - 5, 'text-anchor': 'middle', 'font-size': 13.5}, g);
    tx.textContent = P.velLabels[i];
    
    
  });
  mk('line', {x1: xs(P.velPos[0]), x2: xs(P.velPos[0]), y1: P.T, y2: P.T + 5, stroke: '#000', 'stroke-width': 1}, g);
  const vt = mk('text', {x: P.velTitleX, y: P.velTitleY, 'text-anchor': 'middle', 'font-size': 14}, g);
  vt.innerHTML = 'Radial velocity (10<tspan dy="-5" font-size="10">3</tspan><tspan dy="5">km s</tspan><tspan dy="-5" font-size="10">-1</tspan><tspan dy="5">)</tspan>';
  
  
  const xt = mk('text', {x: (P.L + P.R)/2 + 4, y: P.xTitleY, 'text-anchor': 'middle', 'font-size': P.xTitleSize}, g);
  xt.innerHTML = P.small ? 'Observed wavelength (10<tspan dy="-5" font-size="10">-6</tspan><tspan dy="5">m)</tspan>' : 'Observed wavelength (10<tspan dy="-7" font-size="11">\u22126</tspan><tspan dy="7"> m)</tspan>';
  
  
  const cy1 = (P.T + P.M)/2, cy2 = (P.M + P.B)/2;
  const y1 = mk('text', {x: 0, y: 0, 'text-anchor': 'middle', 'font-size': 20, class: 'ylab'}, g);
  y1.setAttribute('transform', 'translate(' + (P.yTitleX + 6) + ' ' + cy1 + ') rotate(-90) scale(0.88 1)');
  y1.textContent = 'Normalized flux';
  
  
  const y2 = mk('text', {x: P.yTitleX2, y: cy2, 'text-anchor': 'middle', 'font-size': 16, transform: 'rotate(-90 ' + P.yTitleX2 + ' ' + cy2 + ')'}, g);
  y2.textContent = P.small ? '\u0394\u03D5(\u2218)' : '\u0394\u03D5 (\u00B0)';
  if (P.small) y2.setAttribute('font-style', 'italic');
  
  
  const cap = mk('text', {x: P.capX, y: P.capY, 'text-anchor': 'middle', 'font-size': 17, class: 'cap'}, g);
  cap.textContent = '(' + P.id + ')';
  
  
}

panel({id:'a', L:66, R:381, T:39, M:353, B:667, xmin:2.0284, xmax:2.10, vline:2.0626,
  fmin:1.0, fmax:2.0, fticks:fluxTicksStd, pmin:-0.91, pmax:0.24, pticks:aPhaseTicks,
  fluxBlack:aFluxBlack, fluxBlue:aFluxBlue, phaseBlack:aPhaseBlack, phaseBlue:aPhaseBlue,
  xticks:aXTicks, xlabels:aXLabels, velPos:aVelPos, velLabels:aVelLabels,
  velTitleX:210, velTitleY:13, xTitleY:709, xTitleSize:16, yTitleX:18, yTitleX2:18, capX:204, capY:752});
panel({id:'b', L:465, R:780, T:39, M:353, B:667, xmin:2.0222, xmax:2.1008, vline:2.0617,
  fmin:1.0, fmax:2.0, fticks:fluxTicksStd, pmin:-0.472, pmax:0.429, pticks:bPhaseTicks,
  fluxBlack:bFluxBlack, fluxBlue:bFluxBlue, phaseBlack:bPhaseBlack, phaseBlue:bPhaseBlue,
  xticks:bXTicks, xlabels:bXLabels, velPos:bVelPos, velLabels:aVelLabels,
  velTitleX:615, velTitleY:13, xTitleY:709, xTitleSize:16, yTitleX:417, yTitleX2:414, capX:618, capY:752});
panel({id:'c', L:859, R:1174, T:39, M:353, B:667, xmin:2.025, xmax:2.10, vline:2.0629,
  fmin:1.0, fmax:2.0, fticks:fluxTicksStd, pmin:-0.47, pmax:0.44, pticks:cPhaseTicks,
  fluxBlack:cFluxBlack, fluxBlue:cFluxBlue, phaseBlack:cPhaseBlack, phaseBlue:cPhaseBlue,
  xticks:cXTicks, xlabels:cXLabels, velPos:cVelPos, velLabels:aVelLabels,
  velTitleX:1012, velTitleY:13, xTitleY:709, xTitleSize:16, yTitleX:811, yTitleX2:808, capX:1018, capY:752});
panel({id:'d', L:59, R:376, T:840, M:1156, B:1472, xmin:2.0236, xmax:2.10, vline:2.0619,
  fmin:1.0, fmax:3.5, fticks:dFluxTicks, pmin:-0.8, pmax:0.65, pticks:dPhaseTicks,
  fluxBlack:dFluxBlack, fluxBlue:dFluxBlue, phaseBlack:dPhaseBlack, phaseBlue:dPhaseBlue,
  xticks:dXTicks, xlabels:dXLabels, velPos:dVelPos, velLabels:dVelLabels, small:true,
  velTitleX:208, velTitleY:818, xTitleY:1510, xTitleSize:14, yTitleX:10, yTitleX2:14, capX:218, capY:1547});
panel({id:'e', L:468, R:777, T:846, M:1153, B:1460, xmin:2.0249, xmax:2.0857, vline:2.0624,
  fmin:1.0, fmax:2.257, fticks:eFluxTicks, pmin:-0.8, pmax:0.457, pticks:ePhaseTicks,
  fluxBlack:eFluxBlack, fluxBlue:eFluxBlue, phaseBlack:ePhaseBlack, phaseBlue:ePhaseBlue,
  xticks:eXTicks, xlabels:eXLabels, velPos:eVelPos, velLabels:eVelLabels,
  velTitleX:628, velTitleY:827, xTitleY:1503, xTitleSize:16, yTitleX:422, yTitleX2:414, capX:618, capY:1547});
panel({id:'f', L:862, R:1171, T:846, M:1153, B:1460, xmin:2.0094, xmax:2.10, vline:2.0631,
  fmin:1.0, fmax:2.0, fticks:fluxTicksStd, pmin:-0.5, pmax:0.362, pticks:fPhaseTicks,
  fluxBlack:fFluxBlack, fluxBlue:fFluxBlue, phaseBlack:fPhaseBlack, phaseBlue:fPhaseBlue,
  xticks:fXTicks, xlabels:fXLabels, velPos:fVelPos, velLabels:fVelLabels,
  velTitleX:1000, velTitleY:827, xTitleY:1503, xTitleSize:16, yTitleX:814, yTitleX2:808, capX:1015, capY:1547});
</script>
</body></html>
